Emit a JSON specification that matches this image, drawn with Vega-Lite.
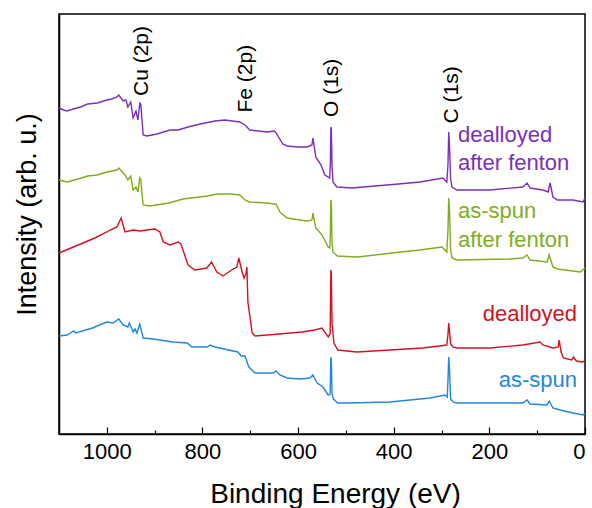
{
  "$schema": "https://vega.github.io/schema/vega-lite/v6.json",
  "autosize": "none",
  "width": 526,
  "height": 420,
  "padding": {"left": 59, "top": 14, "right": 7, "bottom": 74},
  "background": "white",
  "config": {
    "view": {"stroke": "black", "strokeWidth": 1.5},
    "font": "Liberation Sans",
    "axis": {"grid": false, "domainColor": "black", "domainWidth": 1.5, "tickColor": "black", "tickWidth": 1.2, "labelColor": "black", "titleColor": "black", "labelFont": "Liberation Sans", "titleFont": "Liberation Sans", "titleFontWeight": "normal"}
  },
  "datasets": {
    "spectra": [
      {"s":"dealloyed after fenton","e":1100,"v":326},{"s":"dealloyed after fenton","e":1090,"v":324},{"s":"dealloyed after fenton","e":1083,"v":323},{"s":"dealloyed after fenton","e":1070,"v":325},{"s":"dealloyed after fenton","e":1055,"v":327},{"s":"dealloyed after fenton","e":1040,"v":330},{"s":"dealloyed after fenton","e":1020,"v":331},{"s":"dealloyed after fenton","e":1000,"v":334},{"s":"dealloyed after fenton","e":990,"v":335},{"s":"dealloyed after fenton","e":979,"v":337},{"s":"dealloyed after fenton","e":975,"v":339},{"s":"dealloyed after fenton","e":966,"v":333},{"s":"dealloyed after fenton","e":960,"v":334},{"s":"dealloyed after fenton","e":956,"v":327},{"s":"dealloyed after fenton","e":950,"v":332},{"s":"dealloyed after fenton","e":945,"v":316},{"s":"dealloyed after fenton","e":939,"v":323},{"s":"dealloyed after fenton","e":935,"v":314},{"s":"dealloyed after fenton","e":931,"v":331},{"s":"dealloyed after fenton","e":929,"v":330},{"s":"dealloyed after fenton","e":924,"v":299},{"s":"dealloyed after fenton","e":916,"v":298},{"s":"dealloyed after fenton","e":895,"v":300},{"s":"dealloyed after fenton","e":868,"v":304},{"s":"dealloyed after fenton","e":851,"v":304},{"s":"dealloyed after fenton","e":830,"v":307},{"s":"dealloyed after fenton","e":805,"v":310},{"s":"dealloyed after fenton","e":774,"v":313},{"s":"dealloyed after fenton","e":753,"v":314},{"s":"dealloyed after fenton","e":722,"v":312},{"s":"dealloyed after fenton","e":711,"v":309},{"s":"dealloyed after fenton","e":701,"v":304},{"s":"dealloyed after fenton","e":665,"v":302},{"s":"dealloyed after fenton","e":650,"v":303},{"s":"dealloyed after fenton","e":646,"v":301},{"s":"dealloyed after fenton","e":632,"v":290},{"s":"dealloyed after fenton","e":623,"v":288},{"s":"dealloyed after fenton","e":600,"v":287},{"s":"dealloyed after fenton","e":581,"v":287},{"s":"dealloyed after fenton","e":571,"v":289},{"s":"dealloyed after fenton","e":569,"v":296},{"s":"dealloyed after fenton","e":563,"v":277},{"s":"dealloyed after fenton","e":552,"v":269},{"s":"dealloyed after fenton","e":544,"v":259},{"s":"dealloyed after fenton","e":534,"v":256},{"s":"dealloyed after fenton","e":532.5,"v":270},{"s":"dealloyed after fenton","e":531.5,"v":307},{"s":"dealloyed after fenton","e":530.5,"v":305},{"s":"dealloyed after fenton","e":529,"v":268},{"s":"dealloyed after fenton","e":527,"v":252},{"s":"dealloyed after fenton","e":519,"v":247},{"s":"dealloyed after fenton","e":487,"v":246},{"s":"dealloyed after fenton","e":439,"v":248},{"s":"dealloyed after fenton","e":390,"v":250},{"s":"dealloyed after fenton","e":345,"v":252},{"s":"dealloyed after fenton","e":297,"v":256},{"s":"dealloyed after fenton","e":289,"v":252},{"s":"dealloyed after fenton","e":286.5,"v":270},{"s":"dealloyed after fenton","e":285,"v":302},{"s":"dealloyed after fenton","e":283.5,"v":290},{"s":"dealloyed after fenton","e":281,"v":255},{"s":"dealloyed after fenton","e":278,"v":247},{"s":"dealloyed after fenton","e":268,"v":244},{"s":"dealloyed after fenton","e":199,"v":244},{"s":"dealloyed after fenton","e":130,"v":247},{"s":"dealloyed after fenton","e":121,"v":251},{"s":"dealloyed after fenton","e":115,"v":246},{"s":"dealloyed after fenton","e":88,"v":244},{"s":"dealloyed after fenton","e":77,"v":242},{"s":"dealloyed after fenton","e":73,"v":251},{"s":"dealloyed after fenton","e":67,"v":237},{"s":"dealloyed after fenton","e":58,"v":234},{"s":"dealloyed after fenton","e":25,"v":234},{"s":"dealloyed after fenton","e":4,"v":232},{"s":"dealloyed after fenton","e":0,"v":236},
      {"s":"as-spun after fenton","e":1100,"v":254},{"s":"as-spun after fenton","e":1083,"v":252},{"s":"as-spun after fenton","e":1060,"v":255},{"s":"as-spun after fenton","e":1040,"v":258},{"s":"as-spun after fenton","e":1020,"v":259},{"s":"as-spun after fenton","e":1000,"v":262},{"s":"as-spun after fenton","e":979,"v":264},{"s":"as-spun after fenton","e":975,"v":266},{"s":"as-spun after fenton","e":962,"v":259},{"s":"as-spun after fenton","e":956,"v":254},{"s":"as-spun after fenton","e":950,"v":258},{"s":"as-spun after fenton","e":945,"v":244},{"s":"as-spun after fenton","e":939,"v":247},{"s":"as-spun after fenton","e":935,"v":242},{"s":"as-spun after fenton","e":931,"v":256},{"s":"as-spun after fenton","e":929,"v":254},{"s":"as-spun after fenton","e":924,"v":229},{"s":"as-spun after fenton","e":910,"v":228},{"s":"as-spun after fenton","e":870,"v":231},{"s":"as-spun after fenton","e":841,"v":235},{"s":"as-spun after fenton","e":790,"v":238},{"s":"as-spun after fenton","e":769,"v":240},{"s":"as-spun after fenton","e":740,"v":240},{"s":"as-spun after fenton","e":722,"v":239},{"s":"as-spun after fenton","e":711,"v":234},{"s":"as-spun after fenton","e":702,"v":232},{"s":"as-spun after fenton","e":665,"v":231},{"s":"as-spun after fenton","e":650,"v":230},{"s":"as-spun after fenton","e":646,"v":230},{"s":"as-spun after fenton","e":638,"v":222},{"s":"as-spun after fenton","e":623,"v":216},{"s":"as-spun after fenton","e":596,"v":214},{"s":"as-spun after fenton","e":581,"v":213},{"s":"as-spun after fenton","e":571,"v":214},{"s":"as-spun after fenton","e":569,"v":221},{"s":"as-spun after fenton","e":563,"v":206},{"s":"as-spun after fenton","e":550,"v":199},{"s":"as-spun after fenton","e":537,"v":187},{"s":"as-spun after fenton","e":534,"v":186},{"s":"as-spun after fenton","e":532.5,"v":200},{"s":"as-spun after fenton","e":531.5,"v":234},{"s":"as-spun after fenton","e":530.5,"v":232},{"s":"as-spun after fenton","e":529,"v":190},{"s":"as-spun after fenton","e":527,"v":182},{"s":"as-spun after fenton","e":518,"v":178},{"s":"as-spun after fenton","e":475,"v":177},{"s":"as-spun after fenton","e":404,"v":181},{"s":"as-spun after fenton","e":345,"v":184},{"s":"as-spun after fenton","e":299,"v":187},{"s":"as-spun after fenton","e":289,"v":182},{"s":"as-spun after fenton","e":286.5,"v":205},{"s":"as-spun after fenton","e":285,"v":236},{"s":"as-spun after fenton","e":283.5,"v":225},{"s":"as-spun after fenton","e":281,"v":184},{"s":"as-spun after fenton","e":278,"v":176},{"s":"as-spun after fenton","e":268,"v":174},{"s":"as-spun after fenton","e":157,"v":175},{"s":"as-spun after fenton","e":130,"v":176},{"s":"as-spun after fenton","e":121,"v":179},{"s":"as-spun after fenton","e":115,"v":174},{"s":"as-spun after fenton","e":79,"v":172},{"s":"as-spun after fenton","e":75,"v":179},{"s":"as-spun after fenton","e":67,"v":167},{"s":"as-spun after fenton","e":58,"v":165},{"s":"as-spun after fenton","e":10,"v":162},{"s":"as-spun after fenton","e":0,"v":166},
      {"s":"dealloyed","e":1100,"v":181},{"s":"dealloyed","e":1075,"v":186},{"s":"dealloyed","e":1050,"v":191},{"s":"dealloyed","e":1025,"v":196},{"s":"dealloyed","e":1000,"v":202},{"s":"dealloyed","e":993,"v":204},{"s":"dealloyed","e":979,"v":207},{"s":"dealloyed","e":970,"v":216},{"s":"dealloyed","e":962,"v":202},{"s":"dealloyed","e":945,"v":204},{"s":"dealloyed","e":930,"v":203},{"s":"dealloyed","e":916,"v":204},{"s":"dealloyed","e":899,"v":205},{"s":"dealloyed","e":889,"v":202},{"s":"dealloyed","e":882,"v":192},{"s":"dealloyed","e":868,"v":189},{"s":"dealloyed","e":851,"v":192},{"s":"dealloyed","e":845,"v":190},{"s":"dealloyed","e":830,"v":169},{"s":"dealloyed","e":816,"v":164},{"s":"dealloyed","e":791,"v":166},{"s":"dealloyed","e":781,"v":172},{"s":"dealloyed","e":770,"v":162},{"s":"dealloyed","e":757,"v":158},{"s":"dealloyed","e":739,"v":164},{"s":"dealloyed","e":728,"v":167},{"s":"dealloyed","e":724,"v":176},{"s":"dealloyed","e":717,"v":162},{"s":"dealloyed","e":713,"v":156},{"s":"dealloyed","e":709,"v":160},{"s":"dealloyed","e":707,"v":167},{"s":"dealloyed","e":705,"v":132},{"s":"dealloyed","e":696,"v":101},{"s":"dealloyed","e":690,"v":98},{"s":"dealloyed","e":640,"v":100},{"s":"dealloyed","e":592,"v":102},{"s":"dealloyed","e":565,"v":104},{"s":"dealloyed","e":550,"v":106},{"s":"dealloyed","e":537,"v":97},{"s":"dealloyed","e":533,"v":100},{"s":"dealloyed","e":531.5,"v":164},{"s":"dealloyed","e":530.5,"v":160},{"s":"dealloyed","e":529,"v":110},{"s":"dealloyed","e":525,"v":91},{"s":"dealloyed","e":517,"v":84},{"s":"dealloyed","e":477,"v":82},{"s":"dealloyed","e":408,"v":84},{"s":"dealloyed","e":339,"v":86},{"s":"dealloyed","e":289,"v":89},{"s":"dealloyed","e":286.5,"v":100},{"s":"dealloyed","e":285,"v":111},{"s":"dealloyed","e":283.5,"v":104},{"s":"dealloyed","e":281,"v":90},{"s":"dealloyed","e":276,"v":87},{"s":"dealloyed","e":268,"v":86},{"s":"dealloyed","e":199,"v":86},{"s":"dealloyed","e":130,"v":89},{"s":"dealloyed","e":94,"v":92},{"s":"dealloyed","e":88,"v":89},{"s":"dealloyed","e":67,"v":86},{"s":"dealloyed","e":56,"v":87},{"s":"dealloyed","e":54,"v":94},{"s":"dealloyed","e":50,"v":82},{"s":"dealloyed","e":45,"v":76},{"s":"dealloyed","e":28,"v":74},{"s":"dealloyed","e":24,"v":77},{"s":"dealloyed","e":18,"v":73},{"s":"dealloyed","e":6,"v":72},{"s":"dealloyed","e":0,"v":73},
      {"s":"as-spun","e":1100,"v":98},{"s":"as-spun","e":1083,"v":99},{"s":"as-spun","e":1069,"v":103},{"s":"as-spun","e":1065,"v":101},{"s":"as-spun","e":1030,"v":106},{"s":"as-spun","e":1000,"v":112},{"s":"as-spun","e":987,"v":111},{"s":"as-spun","e":975,"v":115},{"s":"as-spun","e":966,"v":109},{"s":"as-spun","e":956,"v":107},{"s":"as-spun","e":953,"v":111},{"s":"as-spun","e":945,"v":102},{"s":"as-spun","e":941,"v":105},{"s":"as-spun","e":937,"v":101},{"s":"as-spun","e":931,"v":110},{"s":"as-spun","e":924,"v":96},{"s":"as-spun","e":903,"v":95},{"s":"as-spun","e":862,"v":92},{"s":"as-spun","e":832,"v":91},{"s":"as-spun","e":822,"v":87},{"s":"as-spun","e":790,"v":87},{"s":"as-spun","e":784,"v":89},{"s":"as-spun","e":774,"v":87},{"s":"as-spun","e":726,"v":82},{"s":"as-spun","e":719,"v":78},{"s":"as-spun","e":711,"v":78},{"s":"as-spun","e":703,"v":67},{"s":"as-spun","e":690,"v":61},{"s":"as-spun","e":652,"v":61},{"s":"as-spun","e":646,"v":63},{"s":"as-spun","e":638,"v":59},{"s":"as-spun","e":623,"v":56},{"s":"as-spun","e":596,"v":55},{"s":"as-spun","e":575,"v":56},{"s":"as-spun","e":569,"v":59},{"s":"as-spun","e":560,"v":51},{"s":"as-spun","e":548,"v":47},{"s":"as-spun","e":537,"v":39},{"s":"as-spun","e":533,"v":40},{"s":"as-spun","e":531.5,"v":77},{"s":"as-spun","e":530.5,"v":74},{"s":"as-spun","e":529,"v":40},{"s":"as-spun","e":526,"v":35},{"s":"as-spun","e":517,"v":31},{"s":"as-spun","e":496,"v":31},{"s":"as-spun","e":408,"v":32},{"s":"as-spun","e":324,"v":36},{"s":"as-spun","e":293,"v":39},{"s":"as-spun","e":288,"v":37},{"s":"as-spun","e":286.5,"v":55},{"s":"as-spun","e":285,"v":77},{"s":"as-spun","e":283.5,"v":66},{"s":"as-spun","e":281,"v":35},{"s":"as-spun","e":276,"v":32},{"s":"as-spun","e":268,"v":31},{"s":"as-spun","e":130,"v":31},{"s":"as-spun","e":121,"v":34},{"s":"as-spun","e":115,"v":30},{"s":"as-spun","e":79,"v":29},{"s":"as-spun","e":75,"v":33},{"s":"as-spun","e":67,"v":26},{"s":"as-spun","e":52,"v":24},{"s":"as-spun","e":25,"v":21},{"s":"as-spun","e":4,"v":19},{"s":"as-spun","e":0,"v":21}
    ],
    "peaks": [
      {"t":"Cu (2p)","e":913,"v":338},
      {"t":"Fe (2p)","e":696,"v":321.5},
      {"t":"O (1s)","e":517,"v":317},
      {"t":"C (1s)","e":266,"v":310.5}
    ],
    "labels": [
      {"s":"dealloyed after fenton","t":"dealloyed","e":265.6,"v":292.3,"side":"left"},
      {"s":"dealloyed after fenton","t":"after fenton","e":265.6,"v":264,"side":"left"},
      {"s":"as-spun after fenton","t":"as-spun","e":265.6,"v":216,"side":"left"},
      {"s":"as-spun after fenton","t":"after fenton","e":265.6,"v":187.3,"side":"left"},
      {"s":"dealloyed","t":"dealloyed","e":16.7,"v":113.3,"side":"right"},
      {"s":"as-spun","t":"as-spun","e":16.7,"v":47.3,"side":"right"}
    ]
  },
  "resolve": {"scale": {"x": "shared", "y": "shared", "color": "shared"}, "axis": {"x": "independent"}},
  "layer": [
    {
      "data": {"name": "spectra"},
      "mark": {"type": "line", "strokeWidth": 1.4},
      "encoding": {
        "x": {"field": "e", "type": "quantitative", "scale": {"domain": [1100, 0], "nice": false},
          "axis": {"orient": "bottom", "values": [0, 200, 400, 600, 800, 1000], "format": "d", "tickSize": -7, "labelPadding": 14, "labelFontSize": 22, "title": "Binding Energy (eV)", "titleFontSize": 28, "titlePadding": 18, "titleX": 276}},
        "y": {"field": "v", "type": "quantitative", "scale": {"domain": [0, 420], "nice": false},
          "axis": {"ticks": false, "labels": false, "title": "Intensity (arb. u.)", "titleFontSize": 27, "titlePadding": 18, "titleY": 200}},
        "color": {"field": "s", "type": "nominal",
          "scale": {"domain": ["dealloyed after fenton", "as-spun after fenton", "dealloyed", "as-spun"], "range": ["#7a2fbd", "#80ad1e", "#d3121e", "#1f87dd"]},
          "legend": null}
      }
    },
    {
      "data": {"name": "peaks"},
      "mark": {"type": "text", "angle": 270, "align": "left", "baseline": "alphabetic", "fontSize": 21, "color": "black", "font": "Liberation Sans"},
      "encoding": {
        "x": {"field": "e", "type": "quantitative",
          "axis": {"orient": "top", "offset": -420, "values": [100, 300, 500, 700, 900], "tickSize": 4, "labels": false, "domain": false, "title": null}},
        "y": {"field": "v", "type": "quantitative"},
        "text": {"field": "t"}
      }
    },
    {
      "data": {"name": "labels"},
      "transform": [{"filter": "datum.side == 'left'"}],
      "mark": {"type": "text", "align": "left", "baseline": "alphabetic", "fontSize": 22, "font": "Liberation Sans"},
      "encoding": {
        "x": {"field": "e", "type": "quantitative", "axis": null},
        "y": {"field": "v", "type": "quantitative"},
        "text": {"field": "t"},
        "color": {"field": "s", "type": "nominal", "legend": null}
      }
    },
    {
      "data": {"name": "labels"},
      "transform": [{"filter": "datum.side == 'right'"}],
      "mark": {"type": "text", "align": "right", "baseline": "alphabetic", "fontSize": 22, "font": "Liberation Sans"},
      "encoding": {
        "x": {"field": "e", "type": "quantitative", "axis": null},
        "y": {"field": "v", "type": "quantitative"},
        "text": {"field": "t"},
        "color": {"field": "s", "type": "nominal", "legend": null}
      }
    }
  ]
}
